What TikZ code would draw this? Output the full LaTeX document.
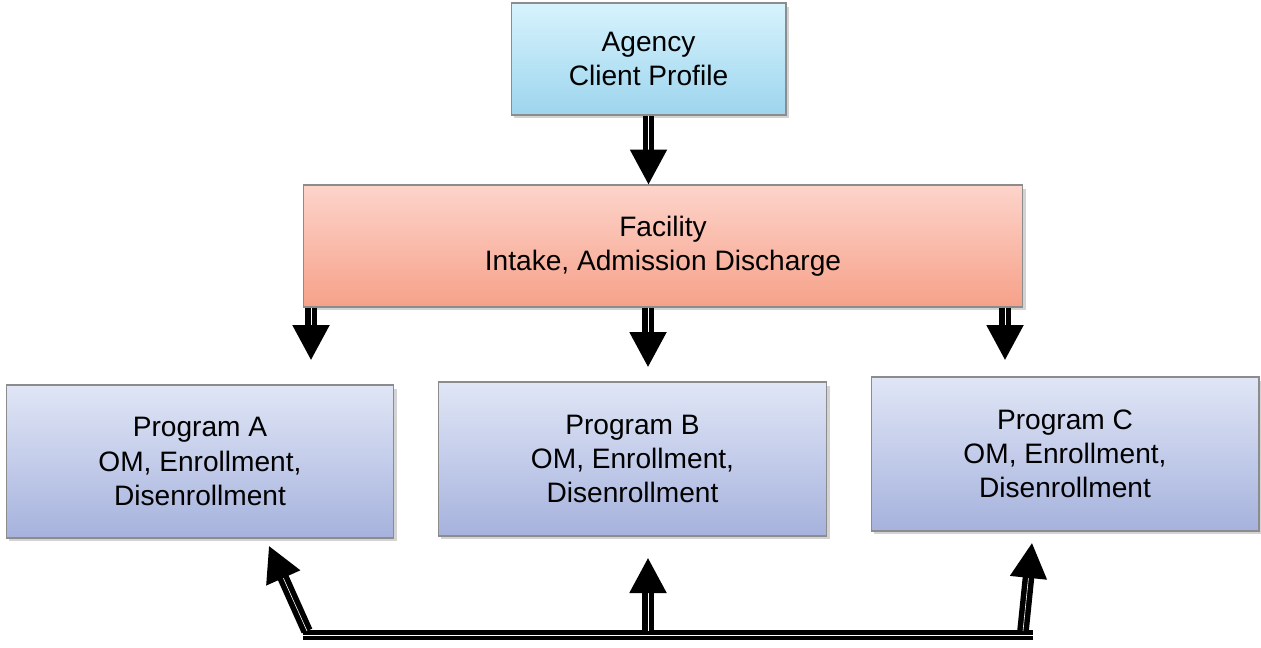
\documentclass[tikz,border=0pt]{standalone}
\usepackage{fontspec}
\setmainfont{Liberation Sans}
\usetikzlibrary{arrows.meta,shadows}

\definecolor{agtop}{RGB}{215,243,253}
\definecolor{agbot}{RGB}{157,213,238}
\definecolor{fctop}{RGB}{253,212,203}
\definecolor{fcbot}{RGB}{246,161,137}
\definecolor{pgtop}{RGB}{224,230,246}
\definecolor{pgbot}{RGB}{166,178,221}

\tikzset{box/.style={draw=black!45, line width=0.6pt, align=center,
           font=\fontsize{16pt}{19.5pt}\selectfont,
           drop shadow={shadow xshift=0.06cm, shadow yshift=-0.07cm, opacity=0.35}},
         flow/.style={line width=0.11cm, double=white, double distance=0.012cm,
           -{Triangle[width=0.72cm,length=0.7cm]}},
         bus/.style={line width=0.1cm, double=white, double distance=0.012cm}}

\begin{document}
\begin{tikzpicture}[x=0.02cm,y=-0.02cm]
\useasboundingbox (0,0) rectangle (1261,647);
\node[box, top color=agtop, bottom color=agbot, minimum width=5.5cm, minimum height=2.24cm] (agency) at (648.5,59) {Agency\\Client Profile};
\node[box, top color=fctop, bottom color=fcbot, minimum width=14.4cm, minimum height=2.44cm] (facility) at (663,246) {Facility\\Intake, Admission Discharge};
\node[box, top color=pgtop, bottom color=pgbot, minimum width=7.76cm, minimum height=3.06cm] (pa) at (200,461.5) {Program A\\OM, Enrollment,\\Disenrollment};
\node[box, top color=pgtop, bottom color=pgbot, minimum width=7.78cm, minimum height=3.08cm] (pb) at (632.5,459) {Program B\\OM, Enrollment,\\Disenrollment};
\node[box, top color=pgtop, bottom color=pgbot, minimum width=7.76cm, minimum height=3.08cm] (pc) at (1065,454) {Program C\\OM, Enrollment,\\Disenrollment};
% arrow ends
\coordinate (ta) at (311,360);
\coordinate (tb) at (648,367);
\coordinate (tc) at (1005,360);
\coordinate (busl) at (303,635);
\coordinate (busr) at (1033,635);
\coordinate (fa) at (307,631);
\coordinate (fb) at (648,631);
\coordinate (fc) at (1023,631);
\coordinate (upa) at (269,546);
\coordinate (upb) at (648,558);
\coordinate (upc) at (1032,543);
\draw[flow] (agency.south) -- (agency.south |- facility.north);
\draw[flow] (facility.south -| ta) -- (ta);
\draw[flow] (facility.south -| tb) -- (tb);
\draw[flow] (facility.south -| tc) -- (tc);
\draw[bus] (busl) -- (busr);
\draw[flow] (fa) -- (upa);
\draw[flow] (fb) -- (upb);
\draw[flow] (fc) -- (upc);
\end{tikzpicture}
\end{document}
